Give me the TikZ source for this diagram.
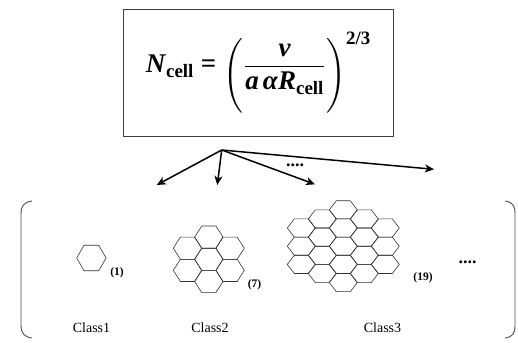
\documentclass[tikz,border=0pt]{standalone}
\usepackage{amsmath}
\usepackage{fontspec}
\setmainfont{Liberation Serif}
\usetikzlibrary{positioning, arrows.meta}

% one flat-topped cell of unit radius, centred at (#1,#2)
\newcommand{\hexcell}[2]{%
  \draw[hexline] (#1,#2) +(0:1) -- +(60:1) -- +(120:1) -- +(180:1)
    -- +(240:1) -- +(300:1) -- cycle;}
% cluster of cells within ring #1 round the centre
\newcommand{\hexcluster}[1]{%
  \foreach \q in {-#1,...,#1} {
    \foreach \s in {-#1,...,#1} {
      \pgfmathtruncatemacro{\ring}{abs(\q+\s)}
      \ifnum\ring>#1 \else
        \pgfmathsetmacro{\hx}{1.5*\q}
        \pgfmathsetmacro{\hy}{sqrt(3)*(\s+0.5*\q)}
        \hexcell{\hx}{\hy}
      \fi
    }
  }}
\newcommand{\bi}[1]{\textbf{\textit{#1}}}
% tall parentheses, set a little below the fraction bar
\newcommand{\lparen}{\raisebox{-9pt}{$\left(\vcenter{\hbox{\rule{0pt}{68pt}}}\right.$}}
\newcommand{\rparen}{\raisebox{-9pt}{$\left.\vcenter{\hbox{\rule{0pt}{68pt}}}\right)$}}

\begin{document}
\begin{tikzpicture}[
  x=1pt, y=-1pt,
  formula/.style = {draw=black!75, line width=0.8pt, minimum width=270pt, minimum height=126.7pt,
                    inner sep=0pt, font=\fontsize{27}{30}\selectfont},
  hexline/.style = {draw=black!80, line width=0.6pt, line join=round},
  fan/.style     = {-{Stealth[length=9pt, width=8pt, inset=2.5pt]}, line width=1.5pt},
  brace/.style   = {draw=black!70, line width=0.9pt},
  classlbl/.style= {font=\fontsize{14}{16}\selectfont},
  count/.style   = {font=\fontsize{11.5}{13}\selectfont\bfseries},
  more/.style    = {font=\fontsize{18}{20}\selectfont\bfseries},
]
  \useasboundingbox (0,0) rectangle (518,342);
  % Relation on top.
  \node[formula] (rel) at (258.3,72.7)
    {$\bi{N}_{\textbf{cell}}\;\textbf{=}\;\lparen\dfrac{\bi{v}}{\bi{a}\,\bi{α}\bi{R}_{\textbf{cell}}}\rparen^{\textbf{2/3}}$};
  % Fan of arrows to the classes.
  \coordinate (hub) at (221.7,150);
  \coordinate (to1) at (156.7,185);
  \coordinate (to2) at (217.3,185);
  \coordinate (to3) at (315,184.3);
  \coordinate (to4) at (434,169.3);
  \foreach \t in {to1, to2, to3, to4}
     \draw[fan] (hub) -- (\t);
  \node[more] (fandots) at (295,165.5) {....};
  % Brackets round the classes.
  \draw[brace] (32,201) .. controls (24,202) and (21,206) .. (21,214) -- (21,325)
     .. controls (21,333) and (24,337) .. (32,338);
  \draw[brace] (505,201) .. controls (513,202) and (515,206) .. (515,214) -- (515,325)
     .. controls (515,333) and (513,337) .. (505,338);
  % Class 1, 2, 3 clusters.
  \begin{scope}[shift={(91.4,258)}, xscale=14.7, yscale=14.7]
    \hexcell{0}{0}
  \end{scope}
  \begin{scope}[shift={(208.8,259.3)}, xscale=14.2, yscale=12.8]
    \hexcluster{1}
  \end{scope}
  \begin{scope}[shift={(343.3,246.2)}, xscale=14, yscale=10.5]
    \hexcluster{2}
  \end{scope}
  \node[count] (n1) at (117,273) {(1)};
  \node[count] (n2) at (254.5,285) {(7)};
  \node[count] (n3) at (423,278) {(19)};
  \node[more] (rowdots) at (467.5,262.5) {....};
  \node[classlbl] (cl1) at (91.5,328) {Class1};
  \node[classlbl] (cl2) at (210,328) {Class2};
  \node[classlbl] (cl3) at (382.5,328) {Class3};
\end{tikzpicture}
\end{document}
